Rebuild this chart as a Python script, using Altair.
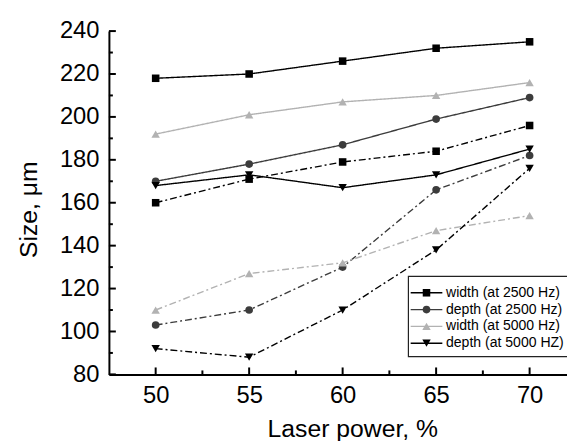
import altair as alt
import pandas as pd

# ---- data ----
power = [50, 55, 60, 65, 70]
series_names = ["width (at 2500 Hz)", "depth (at 2500 Hz)", "width (at 5000 Hz)", "depth (at 5000 HZ)"]

width_2500_solid = [218, 220, 226, 232, 235]
width_2500_dashdot = [160, 171, 179, 184, 196]
depth_2500_solid = [170, 178, 187, 199, 209]
depth_2500_dashdot = [103, 110, 130, 166, 182]
width_5000_solid = [192, 201, 207, 210, 216]
width_5000_dashdot = [110, 127, 132, 147, 154]
depth_5000_solid = [168, 173, 167, 173, 185]
depth_5000_dashdot = [92, 88, 110, 138, 176]

colors = ["#000000", "#3c3c3c", "#b2b2b2", "#000000"]
shapes = ["square", "circle", "triangle-up", "triangle-down"]
marker_sizes = [58, 60, 72, 72]

y_major_ticks = [80, 100, 120, 140, 160, 180, 200, 220, 240]
y_minor_ticks = [90, 110, 130, 150, 170, 190, 210, 230]
x_major_ticks = [50, 55, 60, 65, 70]
x_minor_ticks = [52.5, 57.5, 62.5, 67.5]

FONT = "Liberation Sans"

X_DOMAIN = [47.5, 72]
Y_DOMAIN = [80, 240]
W, H = 463, 347

rows = []
solids = [width_2500_solid, depth_2500_solid, width_5000_solid, depth_5000_solid]
dashes = [width_2500_dashdot, depth_2500_dashdot, width_5000_dashdot, depth_5000_dashdot]
for name, sol, dsh in zip(series_names, solids, dashes):
    for p, v in zip(power, sol):
        rows.append({"power": p, "size": v, "series": name, "style": "solid", "key": name + "|solid"})
    for p, v in zip(power, dsh):
        rows.append({"power": p, "size": v, "series": name, "style": "dashdot", "key": name + "|dashdot"})
df = pd.DataFrame(rows)

x_axis = alt.Axis(
    values=x_major_ticks, ticks=False, grid=False,
    domainColor="black", domainWidth=2,
    labelFont=FONT, labelFontSize=24, labelColor="black", labelPadding=9,
    title="Laser power, %", titleFont=FONT, titleFontSize=25, titleFontWeight="normal",
    titleColor="black", titlePadding=10, titleX=246,
)
y_axis = alt.Axis(
    values=y_major_ticks, ticks=False, grid=False,
    domainColor="black", domainWidth=2,
    labelFont=FONT, labelFontSize=24, labelColor="black", labelPadding=10,
    title="Size, μm", titleFont=FONT, titleFontSize=25, titleFontWeight="normal",
    titleColor="black", titlePadding=18, titleY=180,
)

x_scale = alt.Scale(domain=X_DOMAIN, nice=False, zero=False)
y_scale = alt.Scale(domain=Y_DOMAIN, nice=False, zero=False)
x_enc = alt.X("power:Q", scale=x_scale, axis=x_axis)
y_enc = alt.Y("size:Q", scale=y_scale, axis=y_axis)

color_scale = alt.Scale(domain=series_names, range=colors)

# inward axis ticks, both ends placed through the scales
px_per_x = W / (X_DOMAIN[1] - X_DOMAIN[0])
px_per_y = H / (Y_DOMAIN[1] - Y_DOMAIN[0])

def y_tick_layer(values, length_px):
    d = pd.DataFrame({"size": values, "power": [X_DOMAIN[0]] * len(values),
                      "power_end": [X_DOMAIN[0] + length_px / px_per_x] * len(values)})
    return alt.Chart(d).mark_rule(color="black", strokeWidth=2).encode(
        y=y_enc, x=x_enc, x2="power_end:Q")

def x_tick_layer(values, length_px):
    d = pd.DataFrame({"power": values, "size": [Y_DOMAIN[0]] * len(values),
                      "size_end": [Y_DOMAIN[0] + length_px / px_per_y] * len(values)})
    return alt.Chart(d).mark_rule(color="black", strokeWidth=2).encode(
        x=x_enc, y=y_enc, y2="size_end:Q")

tick_layers = [
    y_tick_layer(y_major_ticks, 7), y_tick_layer(y_minor_ticks, 4),
    x_tick_layer(x_major_ticks, 7), x_tick_layer(x_minor_ticks, 4),
]

lines = alt.Chart(df).mark_line(strokeWidth=1.4).encode(
    x=x_enc, y=y_enc,
    color=alt.Color("series:N", scale=color_scale, legend=None),
    strokeDash=alt.StrokeDash("style:N", scale=alt.Scale(domain=["solid", "dashdot"], range=[[1, 0], [7, 3, 2, 3]]), legend=None),
    detail="key:N",
    order=alt.Order("power:Q"),
)

point_layers = []
for name, shp, sz in zip(series_names, shapes, marker_sizes):
    point_layers.append(
        alt.Chart(df).transform_filter(alt.datum.series == name).mark_point(
            filled=True, opacity=1, shape=shp, size=sz).encode(
            x=x_enc, y=y_enc,
            color=alt.Color("series:N", scale=color_scale, legend=None),
        )
    )

# legend box (inside the plot, lower right)
LX0, LX1, LY0, LY1 = 302.7, 490, 248, 329
legend_layers = [
    alt.Chart(pd.DataFrame({"label": ["legend"]})).mark_rect(
        fill="white", stroke="#222222", strokeWidth=1.2).encode(
        x=alt.value(LX0), x2=alt.value(LX1), y=alt.value(LY0), y2=alt.value(LY1))
]
for i, (name, c, shp, sz) in enumerate(zip(series_names, colors, shapes, marker_sizes)):
    yc = 264.5 + 17 * i
    one = alt.Chart(pd.DataFrame({"label": [name]}))
    legend_layers.append(one.mark_rule(color=c, strokeWidth=1.4).encode(
        x=alt.value(305), x2=alt.value(337), y=alt.value(yc)))
    legend_layers.append(one.mark_point(filled=True, opacity=1, shape=shp, size=sz, color=c).encode(
        x=alt.value(321), y=alt.value(yc)))
    legend_layers.append(one.mark_text(align="left", baseline="middle", font=FONT, fontSize=14.2, color="black").encode(
        x=alt.value(340.7), y=alt.value(yc), text="label:N"))

chart = alt.layer(lines, *point_layers, *tick_layers, *legend_layers).properties(
    width=W, height=H,
    autosize=alt.AutoSizeParams(type="none"),
    padding={"left": 102, "top": 21, "right": 0, "bottom": 65},
    background="white",
).configure_view(stroke=None)

chart.save("out.html", embed_options={"renderer": "svg", "actions": False})
